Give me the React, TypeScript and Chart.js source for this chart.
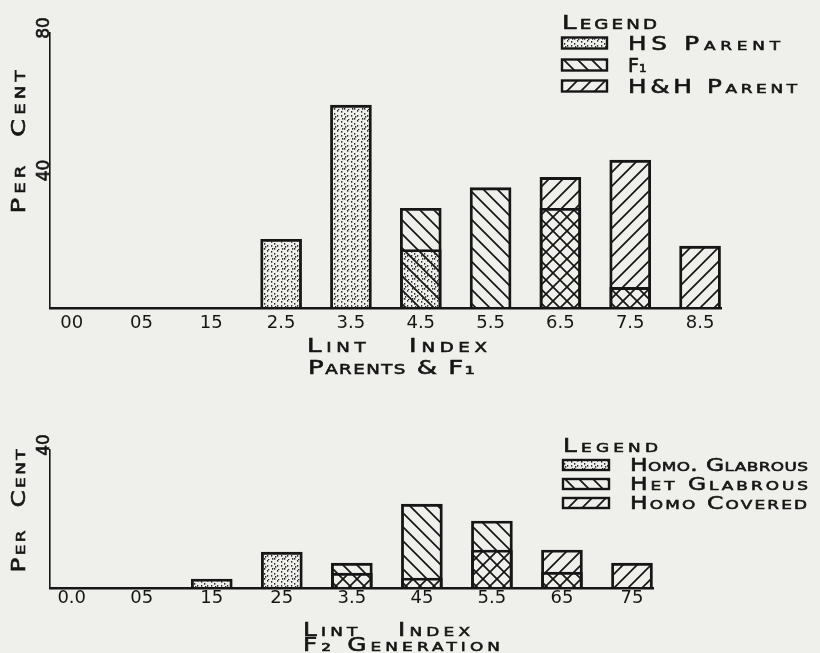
import React, { useEffect, useRef } from 'react';
import { Chart, registerables } from 'chart.js';

Chart.register(...registerables);

// ---------- data ----------
const topTickLabels = ['00', '05', '15', '2.5', '3.5', '4.5', '5.5', '6.5', '7.5', '8.5'];
const hsParent = [null, null, null, 20, 59, 17, null, null, null, null];
const f1 = [null, null, null, null, null, 29, 35, 29, 6, null];
const hhParent = [null, null, null, null, null, null, null, 38, 43, 18];
const topYTicks = [40, 80];
const topSeriesNames = ['HS Parent', 'F₁', 'H&H Parent'];

const bottomTickLabels = ['0.0', '05', '15', '25', '3.5', '45', '5.5', '65', '75'];
const homoGlabrous = [null, null, 2.6, 10.4, null, null, null, null, null];
const hetGlabrous = [null, null, null, null, 7.2, 24.3, 19.4, 4.6, null];
const homoCovered = [null, null, null, null, 4.3, 2.9, 11, 11, 7.2];
const bottomYTicks = [40];
const bottomSeriesNames = ['Homo. Glabrous', 'Het Glabrous', 'Homo Covered'];

// ---------- style ----------
const INK = '#161616';
const PAPER = '#efefeb';
const FAMILY = '"DejaVu Sans", sans-serif';

function makePatterns(ctx: CanvasRenderingContext2D) {
  const hatch = (dir: string) => {
    const s = 14;
    const c = document.createElement('canvas');
    c.width = s;
    c.height = s;
    const g = c.getContext('2d')!;
    g.strokeStyle = INK;
    g.lineWidth = 1.7;
    g.beginPath();
    if (dir === '/') {
      g.moveTo(0, s); g.lineTo(s, 0);
      g.moveTo(-2, 2); g.lineTo(2, -2);
      g.moveTo(s - 2, s + 2); g.lineTo(s + 2, s - 2);
    } else {
      g.moveTo(0, 0); g.lineTo(s, s);
      g.moveTo(-2, s - 2); g.lineTo(2, s + 2);
      g.moveTo(s - 2, -2); g.lineTo(s + 2, 2);
    }
    g.stroke();
    return ctx.createPattern(c, 'repeat')!;
  };
  const dots = () => {
    const s = 10;
    const c = document.createElement('canvas');
    c.width = s;
    c.height = s;
    const g = c.getContext('2d')!;
    g.fillStyle = '#2a2a2a';
    const pts = [[1, 1], [1, 5], [4, 3], [4, 8], [7, 0], [7, 5], [8, 9], [2, 8], [5, 6]];
    for (const [x, y] of pts) g.fillRect(x, y, 1.3, 1.7);
    return ctx.createPattern(c, 'repeat')!;
  };
  return { back: hatch('\\'), fwd: hatch('/'), dots: dots() };
}

function letter(
  ctx: CanvasRenderingContext2D,
  text: string,
  x: number,
  cy: number,
  size: number,
  width: number,
  anchor: 'left' | 'center',
  rotate = false
) {
  ctx.save();
  ctx.font = `small-caps ${size}px ${FAMILY}`;
  ctx.fillStyle = INK;
  ctx.strokeStyle = INK;
  ctx.lineWidth = 0.6;
  ctx.textBaseline = 'alphabetic';
  ctx.textAlign = 'left';
  (ctx as any).letterSpacing = '0px';
  const nat = ctx.measureText(text).width;
  const n = Array.from(text).length;
  const total = width > 0 ? width : nat;
  let sx = 1;
  let ls = 0;
  if (width > 0) {
    sx = Math.max(0.8, Math.min(1.3, width / nat));
    if (n > 1) ls = (width / sx - nat) / (n - 1);
  }
  (ctx as any).letterSpacing = `${ls}px`;
  ctx.translate(x, cy);
  if (rotate) ctx.rotate(-Math.PI / 2);
  const start = anchor === 'center' ? -total / 2 : 0;
  ctx.translate(start, 0);
  ctx.scale(sx, 1);
  ctx.fillText(text, 0, size * 0.36);
  ctx.strokeText(text, 0, size * 0.36);
  (ctx as any).letterSpacing = '0px';
  ctx.restore();
}

type Layout = {
  legendX: number;
  legendTitleY: number;
  legendTitleW: number;
  legendTitleSize: number;
  rowYs: number[];
  rowWs: number[];
  swW: number;
  swH: number;
  textX: number;
  rowSize: number;
  xTitles: { text: string; x: number; y: number; w: number; size: number }[];
  yTitle: { text: string; x: number; y: number; w: number; size: number };
  yTicks: number[];
  yTickX: number;
  yTickSize: number;
};

function letteringPlugin(L: Layout) {
  return {
    id: 'handLettering',
    afterDraw(chart: any) {
      const ctx: CanvasRenderingContext2D = chart.ctx;
      letter(ctx, 'Legend', L.legendX, L.legendTitleY, L.legendTitleSize, L.legendTitleW, 'left');
      chart.data.datasets.forEach((ds: any, i: number) => {
        const cy = L.rowYs[i];
        ctx.save();
        ctx.fillStyle = ds.backgroundColor;
        ctx.fillRect(L.legendX, cy - L.swH / 2, L.swW, L.swH);
        ctx.strokeStyle = INK;
        ctx.lineWidth = 2.4;
        ctx.strokeRect(L.legendX, cy - L.swH / 2, L.swW, L.swH);
        ctx.restore();
        letter(ctx, ds.label, L.textX, cy, L.rowSize, L.rowWs[i], 'left');
      });
      for (const t of L.xTitles) letter(ctx, t.text, t.x, t.y, t.size, t.w, 'left');
      const yt = L.yTitle;
      letter(ctx, yt.text, yt.x, yt.y, yt.size, yt.w, 'center', true);
      const ys = chart.scales.y;
      for (const v of L.yTicks) {
        const py = Math.max(ys.getPixelForValue(v), ys.top - 5 + (v === ys.max ? 0 : 5));
        letter(ctx, String(v), L.yTickX, v === ys.max ? ys.top - 5 : py, L.yTickSize, 0, 'center', true);
      }
    },
  };
}

function buildChart(
  canvas: HTMLCanvasElement,
  tickLabels: string[],
  series: (number | null)[][],
  names: string[],
  fills: (p: ReturnType<typeof makePatterns>) => CanvasPattern[],
  yMax: number,
  xMax: number,
  padding: { left: number; right: number; top: number },
  xScaleHeight: number,
  tickPadding: number,
  layout: Layout
) {
  const ctx = canvas.getContext('2d')!;
  const pats = makePatterns(ctx);
  const fillList = fills(pats);
  return new Chart(ctx, {
    type: 'bar',
    data: {
      datasets: series.map((arr, i) => ({
        label: names[i],
        data: arr.map((v, k) => ({ x: k, y: v })),
        backgroundColor: fillList[i],
        borderColor: INK,
        borderWidth: 2.2,
        barThickness: 41,
        categoryPercentage: 1,
        barPercentage: 1,
      })) as any,
    },
    options: {
      animation: false,
      responsive: false,
      devicePixelRatio: 1,
      layout: { padding: { left: padding.left, right: padding.right, top: padding.top, bottom: 0 } },
      plugins: {
        legend: { display: false },
        tooltip: { enabled: false },
        title: { display: false },
      },
      scales: {
        x: {
          type: 'linear',
          stacked: true,
          min: -0.31,
          max: xMax,
          offset: false,
          bounds: 'data',
          grid: { display: false, drawTicks: false },
          border: { display: true, color: INK, width: 2.6 },
          ticks: {
            autoSkip: false,
            maxRotation: 0,
            minRotation: 0,
            padding: tickPadding,
            color: INK,
            font: { family: FAMILY, size: 18 },
            callback: (v: any) => {
              const k = Math.round(Number(v));
              return tickLabels[k] !== undefined ? tickLabels[k] : '';
            },
          },
          afterBuildTicks: (s: any) => {
            s.ticks = tickLabels.map((_, i) => ({ value: i }));
          },
          afterFit: (s: any) => {
            s.height = xScaleHeight;
          },
        } as any,
        y: {
          min: 0,
          max: yMax,
          stacked: false,
          grid: { display: false, drawTicks: false },
          border: { display: true, color: INK, width: 1.6 },
          ticks: { display: false },
          afterFit: (s: any) => {
            s.width = 0;
          },
        } as any,
      },
    },
    plugins: [letteringPlugin(layout)],
  });
}

export default function App() {
  const topRef = useRef<HTMLCanvasElement>(null);
  const botRef = useRef<HTMLCanvasElement>(null);

  useEffect(() => {
    const charts: Chart[] = [];
    if (topRef.current) {
      charts.push(
        buildChart(
          topRef.current,
          topTickLabels,
          [hsParent, f1, hhParent],
          topSeriesNames,
          (p) => [p.dots, p.back, p.fwd],
          80,
          9.3,
          { left: 50, right: 99, top: 33 },
          82,
          5,
          {
            legendX: 562,
            legendTitleY: 22,
            legendTitleW: 95,
            legendTitleSize: 20,
            rowYs: [43, 65, 86],
            rowWs: [152, 0, 169],
            swW: 45,
            swH: 11,
            textX: 628,
            rowSize: 19,
            xTitles: [
              { text: 'Lint   Index', x: 307, y: 345, w: 180, size: 20 },
              { text: 'Parents & F₁', x: 308, y: 367, w: 167, size: 20 },
            ],
            yTitle: { text: 'Per  Cent', x: 18, y: 142, w: 143, size: 20 },
            yTicks: topYTicks,
            yTickX: 43,
            yTickSize: 17,
          }
        )
      );
    }
    if (botRef.current) {
      charts.push(
        buildChart(
          botRef.current,
          bottomTickLabels,
          [homoGlabrous, hetGlabrous, homoCovered],
          bottomSeriesNames,
          (p) => [p.dots, p.back, p.fwd],
          40,
          8.3,
          { left: 50, right: 167, top: 60 },
          65,
          0,
          {
            legendX: 563,
            legendTitleY: 55,
            legendTitleW: 95,
            legendTitleSize: 19,
            rowYs: [75, 94, 113],
            rowWs: [178, 178, 177],
            swW: 46,
            swH: 10,
            textX: 630,
            rowSize: 18,
            xTitles: [
              { text: 'Lint   Index', x: 303, y: 239, w: 167, size: 19 },
              { text: 'F₂ Generation', x: 303, y: 254, w: 197, size: 19 },
            ],
            yTitle: { text: 'Per  Cent', x: 18, y: 121, w: 123, size: 19 },
            yTicks: bottomYTicks,
            yTickX: 43,
            yTickSize: 17,
          }
        )
      );
    }
    return () => charts.forEach((c) => c.destroy());
  }, []);

  return (
    <div
      style={{
        position: 'absolute',
        left: 0,
        top: 0,
        width: 820,
        height: 653,
        background: PAPER,
        overflow: 'hidden',
      }}
    >
      <canvas
        ref={topRef}
        width={820}
        height={390}
        style={{ position: 'absolute', left: 0, top: 0, width: 820, height: 390, display: 'block' }}
      />
      <canvas
        ref={botRef}
        width={820}
        height={263}
        style={{ position: 'absolute', left: 0, top: 390, width: 820, height: 263, display: 'block' }}
      />
    </div>
  );
}
